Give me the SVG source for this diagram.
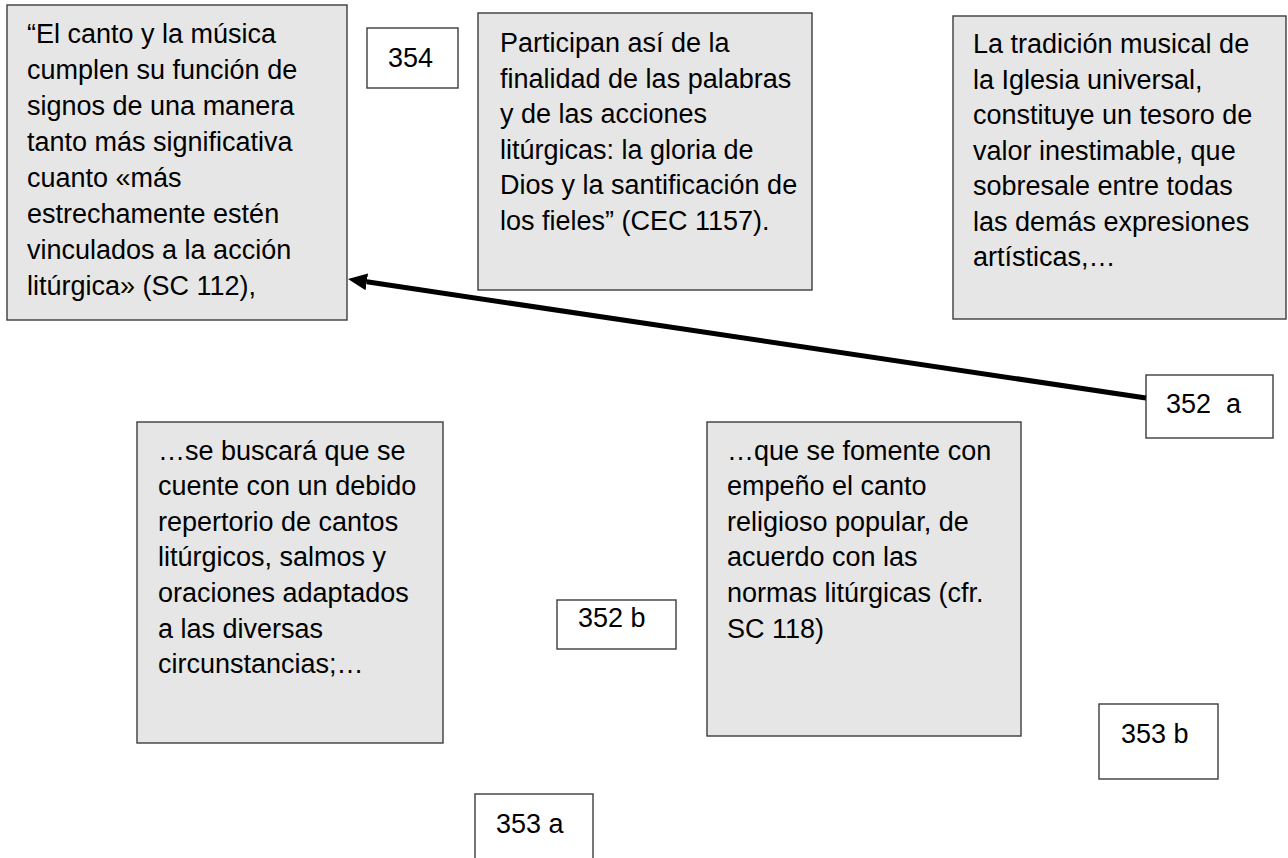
<svg xmlns="http://www.w3.org/2000/svg" width="1288" height="858" viewBox="0 0 1288 858">
<style>
  .big { fill: #e6e6e6; stroke: #3c3c3c; stroke-width: 1.4; }
  .small { fill: #ffffff; stroke: #3c3c3c; stroke-width: 1.4; }
  text { font-family: "Liberation Sans", Arial, sans-serif; font-size: 27px; fill: #000000; white-space: pre; }
  .conn { stroke: #000000; stroke-width: 5; fill: none; }
</style>
<defs>
  <marker id="ah" viewBox="0 0 19 17" refX="0" refY="8.5" markerWidth="19" markerHeight="17" markerUnits="userSpaceOnUse" orient="auto">
    <path d="M0,0 L19,8.5 L0,17 z" fill="#000000"/>
  </marker>
</defs>
<rect width="1288" height="858" fill="#ffffff"/>

<g id="node-canto">
  <rect class="big" x="7" y="5" width="340" height="315"/>
  <text x="27" y="43">“El canto y la música</text>
  <text x="27" y="79">cumplen su función de</text>
  <text x="27" y="115">signos de una manera</text>
  <text x="27" y="151">tanto más significativa</text>
  <text x="27" y="187">cuanto «más</text>
  <text x="27" y="223">estrechamente estén</text>
  <text x="27" y="259">vinculados a la acción</text>
  <text x="27" y="295">litúrgica» (SC 112),</text>
</g>

<g id="node-354">
  <rect class="small" x="367" y="28" width="91" height="60"/>
  <text x="388" y="67">354</text>
</g>

<g id="node-participan">
  <rect class="big" x="478" y="13" width="334" height="277"/>
  <text x="500" y="52">Participan así de la</text>
  <text x="500" y="88">finalidad de las palabras</text>
  <text x="500" y="123">y de las acciones</text>
  <text x="500" y="159">litúrgicas: la gloria de</text>
  <text x="500" y="194">Dios y la santificación de</text>
  <text x="500" y="230">los fieles” (CEC 1157).</text>
</g>

<g id="node-tradicion">
  <rect class="big" x="953" y="16" width="333" height="303"/>
  <text x="973" y="53">La tradición musical de</text>
  <text x="973" y="89">la Iglesia universal,</text>
  <text x="973" y="124">constituye un tesoro de</text>
  <text x="973" y="160">valor inestimable, que</text>
  <text x="973" y="195">sobresale entre todas</text>
  <text x="973" y="231">las demás expresiones</text>
  <text x="973" y="266">artísticas,…</text>
</g>

<g id="node-352a">
  <rect class="small" x="1146" y="375" width="127" height="63"/>
  <text x="1166" y="413">352  a</text>
</g>

<g id="node-buscara">
  <rect class="big" x="137" y="422" width="306" height="321"/>
  <text x="158" y="460">…se buscará que se</text>
  <text x="158" y="495">cuente con un debido</text>
  <text x="158" y="531">repertorio de cantos</text>
  <text x="158" y="566">litúrgicos, salmos y</text>
  <text x="158" y="602">oraciones adaptados</text>
  <text x="158" y="638">a las diversas</text>
  <text x="158" y="673">circunstancias;…</text>
</g>

<g id="node-352b">
  <rect class="small" x="557" y="600" width="119" height="49"/>
  <text x="578" y="627">352 b</text>
</g>

<g id="node-fomente">
  <rect class="big" x="707" y="422" width="314" height="314"/>
  <text x="727" y="460">…que se fomente con</text>
  <text x="727" y="495">empeño el canto</text>
  <text x="727" y="531">religioso popular, de</text>
  <text x="727" y="566">acuerdo con las</text>
  <text x="727" y="602">normas litúrgicas (cfr.</text>
  <text x="727" y="638">SC 118)</text>
</g>

<g id="node-353b">
  <rect class="small" x="1099" y="704" width="119" height="75"/>
  <text x="1121" y="743">353 b</text>
</g>

<g id="node-353a">
  <rect class="small" x="475" y="794" width="118" height="80"/>
  <text x="496" y="833">353 a</text>
</g>

<g id="connectors">
  <line class="conn" x1="1146" y1="398" x2="366.8" y2="281.8" marker-end="url(#ah)"/>
</g>
</svg>
